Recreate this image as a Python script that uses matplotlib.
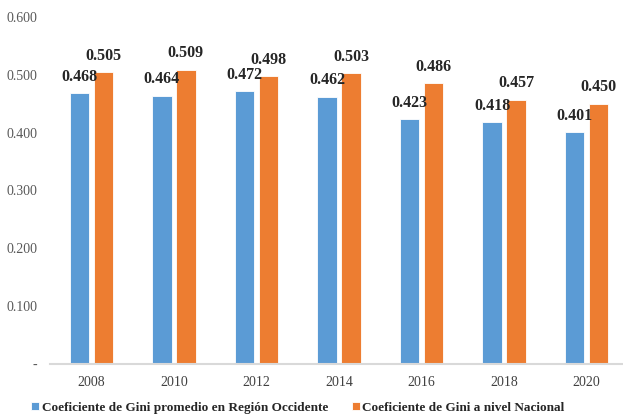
import matplotlib.pyplot as plt
import numpy as np

# Gini data by year
years = ["2008", "2010", "2012", "2014", "2016", "2018", "2020"]
occidente = [0.468, 0.464, 0.472, 0.462, 0.423, 0.418, 0.401]
nacional = [0.505, 0.509, 0.498, 0.503, 0.486, 0.457, 0.450]
yticks = [0.0, 0.1, 0.2, 0.3, 0.4, 0.5, 0.6]
ytick_labels = ["-", "0.100", "0.200", "0.300", "0.400", "0.500", "0.600"]

plt.rcParams['font.family'] = ['Liberation Serif', 'DejaVu Serif']

fig = plt.figure(figsize=(6.23, 4.2), dpi=100)
ax = fig.add_axes([50 / 623, 1 - 363.5 / 420, 578 / 623, 346.5 / 420])

x = np.arange(len(years))
w = 0.235
off = 0.145
b1 = ax.bar(x - off, occidente, w, color="#5B9BD5", edgecolor="white", linewidth=0.6,
            label="Coeficiente de Gini promedio en Región Occidente")
b2 = ax.bar(x + off, nacional, w, color="#ED7D31", edgecolor="white", linewidth=0.6,
            label="Coeficiente de Gini a nivel Nacional")

for bars, vals in [(b1, occidente), (b2, nacional)]:
    for rect, v in zip(bars, vals):
        ax.annotate(f"{v:.3f}", (rect.get_x() + rect.get_width() / 2, v),
                    xytext=(0, 6), textcoords="offset points",
                    ha="center", va="bottom", fontsize=11.5, fontweight="bold",
                    color="#262626")

ax.set_xlim(-0.5, 6.5)
ax.set_ylim(0, 0.6)
ax.set_xticks(x)
ax.set_xticklabels(years, fontsize=10, color="#404040")
ax.set_yticks(yticks)
ax.set_yticklabels(ytick_labels, fontsize=10, color="#595959")
ax.tick_params(axis="both", length=0)
ax.tick_params(axis="y", pad=9)
ax.tick_params(axis="x", pad=9)

for s in ["top", "right", "left"]:
    ax.spines[s].set_visible(False)
ax.spines["bottom"].set_color("#D9D9D9")
ax.spines["bottom"].set_linewidth(1.5)

leg = fig.legend(handles=[b1, b2], loc="center", bbox_to_anchor=(298 / 623, 0.029),
                 ncol=2, frameon=False, handlelength=0.6, handleheight=0.6,
                 handletextpad=0.2, columnspacing=1.8,
                 prop={"size": 9.5, "weight": "bold"})
for t in leg.get_texts():
    t.set_color("#262626")

fig.savefig("out.png", dpi=100)
